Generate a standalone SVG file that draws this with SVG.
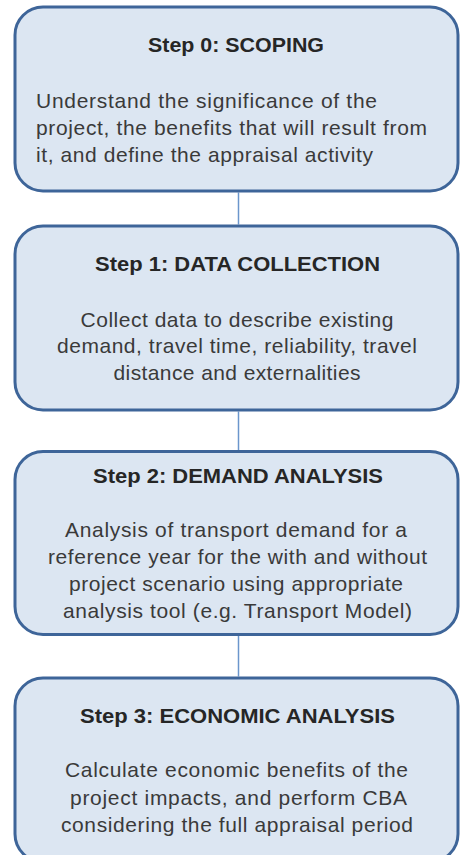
<svg xmlns="http://www.w3.org/2000/svg" width="460" height="855" viewBox="0 0 460 855">
<style>
.box{fill:#dce6f2;stroke:#3e6599;stroke-width:3}
.title{font-family:"Liberation Sans",Arial,sans-serif;font-weight:bold;font-size:20px;fill:#262626;text-anchor:middle}
.body{font-family:"Liberation Sans",Arial,sans-serif;font-size:21px;fill:#3a3a3a;text-anchor:middle}
.left{text-anchor:start}
.conn{stroke:#6b96cc;stroke-width:1.5;fill:none}
</style>
<rect width="460" height="855" fill="#ffffff"/>
<g id="connectors">
<line class="conn" x1="238.5" y1="192.5" x2="238.5" y2="224.5"/>
<line class="conn" x1="238.5" y1="411.5" x2="238.5" y2="450"/>
<line class="conn" x1="238.5" y1="636" x2="238.5" y2="676.5"/>
</g>
<g id="step0">
<rect class="box" x="15" y="7" width="443" height="184" rx="28"/>
<text class="title" x="236" y="52" textLength="176" lengthAdjust="spacingAndGlyphs">Step 0: SCOPING</text>
<text class="body left" x="36" y="108" textLength="341" lengthAdjust="spacing">Understand the significance of the</text>
<text class="body left" x="36" y="135" textLength="391" lengthAdjust="spacing">project, the benefits that will result from</text>
<text class="body left" x="36" y="162" textLength="337" lengthAdjust="spacing">it, and define the appraisal activity</text>
</g>
<g id="step1">
<rect class="box" x="15" y="226" width="443" height="184" rx="28"/>
<text class="title" x="237.5" y="271" textLength="285" lengthAdjust="spacingAndGlyphs">Step 1: DATA COLLECTION</text>
<text class="body" x="237" y="327" textLength="313" lengthAdjust="spacing">Collect data to describe existing</text>
<text class="body" x="237" y="353" textLength="360" lengthAdjust="spacing">demand, travel time, reliability, travel</text>
<text class="body" x="237" y="380" textLength="247" lengthAdjust="spacing">distance and externalities</text>
</g>
<g id="step2">
<rect class="box" x="15" y="451.5" width="443" height="183" rx="28"/>
<text class="title" x="238" y="483" textLength="290" lengthAdjust="spacingAndGlyphs">Step 2: DEMAND ANALYSIS</text>
<text class="body" x="236" y="537" textLength="342" lengthAdjust="spacing">Analysis of transport demand for a</text>
<text class="body" x="237.5" y="564" textLength="379" lengthAdjust="spacing">reference year for the with and without</text>
<text class="body" x="236" y="591" textLength="334" lengthAdjust="spacing">project scenario using appropriate</text>
<text class="body" x="237.5" y="618" textLength="349" lengthAdjust="spacing">analysis tool (e.g. Transport Model)</text>
</g>
<g id="step3">
<rect class="box" x="15" y="678" width="443" height="184" rx="28"/>
<text class="title" x="237.5" y="723" textLength="315" lengthAdjust="spacingAndGlyphs">Step 3: ECONOMIC ANALYSIS</text>
<text class="body" x="236.5" y="777" textLength="343" lengthAdjust="spacing">Calculate economic benefits of the</text>
<text class="body" x="238.5" y="805" textLength="337" lengthAdjust="spacing">project impacts, and perform CBA</text>
<text class="body" x="237" y="832" textLength="352" lengthAdjust="spacing">considering the full appraisal period</text>
</g>
</svg>
